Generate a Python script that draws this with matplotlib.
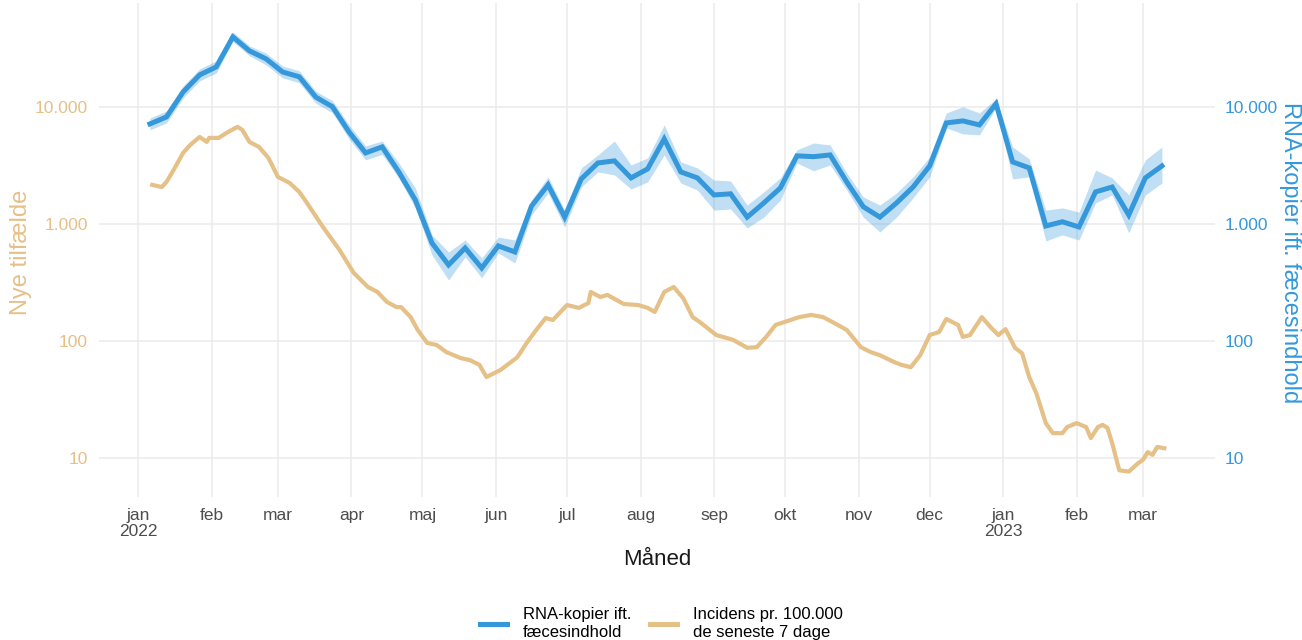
import numpy as np
import pandas as pd
import matplotlib
matplotlib.use("Agg")
import matplotlib.pyplot as plt
from matplotlib.lines import Line2D

plt.rcParams['font.family'] = ['Liberation Sans', 'DejaVu Sans']

# --- data ---
# RNA-kopier ift. fæcesindhold, ugentlige målinger fra 6. jan 2022
rna_start = '2022-01-06'
rna = [7200, 8260, 13500, 18900, 22100, 39900, 30300, 25900, 20000, 18200,
       12200, 10100, 6150, 4070, 4580, 2800, 1610, 692, 449, 627,
       423, 653, 580, 1430, 2170, 1150, 2440, 3340, 3480, 2490,
       2970, 5360, 2800, 2490, 1780, 1820, 1150, 1520, 2040, 3840,
       3780, 3910, 2300, 1410, 1150, 1520, 2080, 3150, 7340, 7640,
       7060, 10700, 3410, 3030, 967, 1050, 948, 1890, 2080, 1200,
       2490, 3150]
rna_hi = [8100, 9300, 15200, 21300, 24900, 44000, 33500, 29000, 22500, 20500,
          13700, 11400, 7060, 4670, 5150, 3340, 2040, 811, 580, 734,
          515, 778, 734, 1610, 2540, 1320, 3030, 3910, 5150, 3210,
          3690, 7060, 3410, 3030, 2390, 2340, 1460, 1890, 2490, 4320,
          4950, 4760, 2740, 1710, 1460, 1850, 2540, 3760, 8930, 10100,
          8930, 11800, 4580, 3620, 1320, 1380, 1270, 2910, 2490, 1780,
          3550, 4580]
rna_lo = [6400, 7350, 12000, 16800, 19600, 36500, 27500, 23000, 17800, 16200,
          10800, 9000, 5360, 3550, 3950, 2490, 1380, 547, 334, 526,
          348, 569, 467, 1200, 1850, 948, 2080, 2800, 2640, 2000,
          2300, 3910, 2250, 1960, 1320, 1350, 929, 1150, 1610, 3340,
          2860, 3210, 1960, 1150, 859, 1150, 1680, 2540, 6650, 5920,
          5800, 9870, 2440, 2540, 720, 811, 734, 1520, 1780, 843,
          1780, 2250]

# Incidens pr. 100.000 de seneste 7 dage (dage efter 1. jan 2022)
inc_day = [6, 10, 12, 15, 19, 22, 26, 29, 30, 34, 38, 42, 44, 47, 51, 55, 59,
           64, 68, 71, 76, 78, 85, 91, 97, 101, 105, 109, 111, 115, 118, 122,
           126, 130, 136, 140, 144, 147, 153, 160, 164, 168, 172, 175, 181,
           186, 190, 191, 195, 198, 205, 211, 215, 218, 222, 226, 230, 234,
           237, 244, 251, 257, 261, 265, 269, 274, 279, 284, 289, 293, 299,
           305, 309, 313, 319, 322, 326, 330, 334, 338, 341, 346, 348, 351,
           356, 360, 363, 366, 370, 373, 376, 379, 383, 386, 390, 392, 396,
           400, 402, 405, 407, 409, 411, 414, 418, 422, 424, 426, 428, 430, 433]
inc = [2170, 2080, 2300, 2910, 4070, 4760, 5570, 5050, 5470, 5470, 6150,
       6790, 6400, 5050, 4580, 3690, 2540, 2250, 1890, 1550, 1090, 948, 603,
       384, 291, 264, 217, 196, 196, 161, 125, 96.7, 93, 81, 72, 69, 63,
       49.5, 57, 73, 97, 125, 158, 152, 204, 193, 212, 264, 239, 249, 208,
       204, 193, 178, 264, 291, 234, 161, 146, 113, 103, 88, 89, 109, 138,
       149, 161, 168, 161, 146, 125, 89, 81, 76, 66.5, 63, 60, 76, 113, 120,
       155, 138, 109, 113, 161, 130, 113, 127, 88, 79, 49.5, 36, 20, 16.4,
       16.4, 18.5, 20, 18.5, 14.9, 18.5, 19.3, 18.2, 13.5, 7.9, 7.7, 9.1,
       9.7, 11.3, 10.7, 12.5, 12.2]

month_labels = ['jan\n2022', 'feb', 'mar', 'apr', 'maj', 'jun', 'jul', 'aug',
                'sep', 'okt', 'nov', 'dec', 'jan\n2023', 'feb', 'mar']
y_ticks = [10, 100, 1000, 10000]
y_labels = ['10', '100', '1.000', '10.000']

blue = '#3498DB'
tan = '#E5C087'

rna_dates = pd.date_range(rna_start, periods=len(rna), freq='7D')
inc_dates = pd.Timestamp('2022-01-01') + pd.to_timedelta(inc_day, unit='D')
month_ticks = pd.date_range('2022-01-01', '2023-03-01', freq='MS')

fig = plt.figure(figsize=(13.02, 6.4), dpi=100)
ax = fig.add_axes([0.076, 0.2234, 0.8572, 0.772])

ax.fill_between(rna_dates, rna_lo, rna_hi, color=blue, alpha=0.3, lw=0)
ax.plot(rna_dates, rna, color=blue, lw=3.6, solid_joinstyle='miter')
ax.plot(inc_dates, inc, color=tan, lw=3.0)

ax.set_yscale('log')
ax.set_ylim(4.67, 77800)
ax.set_xlim(pd.Timestamp('2022-01-01') - pd.Timedelta(days=16.5),
            pd.Timestamp('2022-01-01') + pd.Timedelta(days=454.4))
ax.set_yticks(y_ticks)
ax.set_yticklabels(y_labels)
ax.yaxis.set_minor_locator(matplotlib.ticker.NullLocator())
ax.set_xticks(month_ticks)
ax.set_xticklabels(month_labels)
for lbl in ax.get_xticklabels():
    lbl.set_linespacing(1.1)

ax2 = ax.twinx()
ax2.set_yscale('log')
ax2.set_ylim(ax.get_ylim())
ax2.set_yticks(y_ticks)
ax2.set_yticklabels(y_labels)
ax2.yaxis.set_minor_locator(matplotlib.ticker.NullLocator())

for a in (ax, ax2):
    for s in a.spines.values():
        s.set_visible(False)
ax.grid(True, color='#EBEBEB', lw=1.1)
ax.set_axisbelow(True)
ax.tick_params(axis='x', length=0, pad=8, labelsize=12.5, labelcolor='#4D4D4D')
ax.tick_params(axis='y', length=0, pad=8, labelsize=12.5, labelcolor=tan)
ax2.tick_params(axis='y', length=0, pad=7, labelsize=12.5, labelcolor=blue)

fig.text(0.0160, 0.605, 'Nye tilfælde', rotation=90, ha='center', va='center',
         fontsize=17, color=tan)
fig.text(0.991, 0.605, 'RNA-kopier ift. fæcesindhold', rotation=270,
         ha='center', va='center', fontsize=17, color=blue)
fig.text(0.505, 0.126, 'Måned', ha='center', va='center', fontsize=16,
         color='#1A1A1A')

handles = [Line2D([], [], color=blue, lw=3.6),
           Line2D([], [], color=tan, lw=3.6)]
fig.legend(handles, ['RNA-kopier ift.\nfæcesindhold',
                     'Incidens pr. 100.000\nde seneste 7 dage'],
           loc='center', bbox_to_anchor=(0.508, 0.026), ncol=2, frameon=False,
           fontsize=12, handlelength=1.65, columnspacing=1.1, handletextpad=0.95,
           labelspacing=0.2)

fig.savefig('out.png', dpi=100)
